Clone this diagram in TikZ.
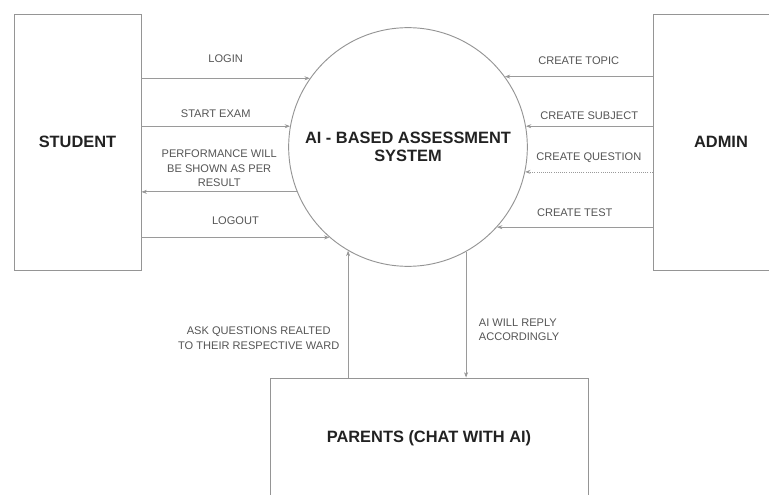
\documentclass[tikz,border=0pt]{standalone}
\usepackage{fontspec}
\setmainfont{Liberation Sans}
\usepackage{tikz}
\usetikzlibrary{arrows.meta}

\definecolor{boxgray}{HTML}{959595}
\definecolor{flowgray}{HTML}{9A9A9A}
\definecolor{labelgray}{HTML}{555555}
\definecolor{titlegray}{HTML}{222222}

\tikzset{
    entity/.style={draw=boxgray, line width=0.7pt, minimum width=95.25pt,
        font=\fontsize{12.3}{14}\selectfont\bfseries, text=titlegray},
    process/.style={draw=boxgray, line width=0.7pt, circle, minimum size=179pt,
        align=center, font=\fontsize{12.3}{14}\selectfont\bfseries, text=titlegray},
    flow/.style={draw=flowgray, line width=0.6pt,
        -{Stealth[length=4pt, width=3pt, fill=titlegray]}},
    flowlabel/.style={font=\fontsize{8.3}{11}\selectfont, text=labelgray, align=center}
}

\begin{document}
\begin{tikzpicture}[x=0.75pt, y=-0.75pt]
    \useasboundingbox (0,0) rectangle (769,495);

    % Draw entities and the process
    \node[entity, minimum height=192pt] (student) at (77.5,142) {STUDENT};
    \node[entity, minimum width=102pt, minimum height=192pt] (admin) at (721,142) {ADMIN};
    \node[entity, minimum width=238.5pt, minimum height=90pt] (parents) at (429,438) {PARENTS (CHAT WITH AI)};
    \node[process] (sys) at (408,147) {AI - BASED ASSESSMENT\\SYSTEM};

    % Student flows
    \draw[flow] (student.east |- sys.145.7) -- (sys.145.7) node[flowlabel, midway, above=8pt] {LOGIN};
    \draw[flow] (student.east |- sys.170.8) -- (sys.170.8) node[flowlabel, midway, above=3pt] {START EXAM};
    \draw[flow] (sys.202.7) -- (student.east |- sys.202.7) node[flowlabel, midway, above=0pt] {PERFORMANCE WILL\\BE SHOWN AS PER\\RESULT};
    \draw[flow] (student.east |- sys.229.9) -- (sys.229.9) node[flowlabel, midway, above=6pt] {LOGOUT};

    % Admin flows
    \draw[flow] (admin.west |- sys.36) -- (sys.36) node[flowlabel, midway, above=5.5pt] {CREATE TOPIC};
    \draw[flow] (admin.west |- sys.10.7) -- (sys.10.7) node[flowlabel, midway, above=1pt] {CREATE SUBJECT};
    \draw[flow, densely dotted] (admin.west |- sys.348.9) -- (sys.348.9) node[flowlabel, midway, above=3pt] {CREATE QUESTION};
    \draw[flow] (admin.west |- sys.318.4) -- (sys.318.4) node[flowlabel, midway, above=4.5pt] {CREATE TEST};

    % Parents flows
    \draw[flow] (sys.240.9 |- parents.north) -- (sys.240.9) node[flowlabel, pos=0.31, left=3pt] {ASK QUESTIONS REALTED\\TO THEIR RESPECTIVE WARD};
    \draw[flow] (sys.299.7) -- (sys.299.7 |- parents.north) node[flowlabel, pos=0.62, right=6pt, align=left] {AI WILL REPLY\\ACCORDINGLY};
\end{tikzpicture}
\end{document}
